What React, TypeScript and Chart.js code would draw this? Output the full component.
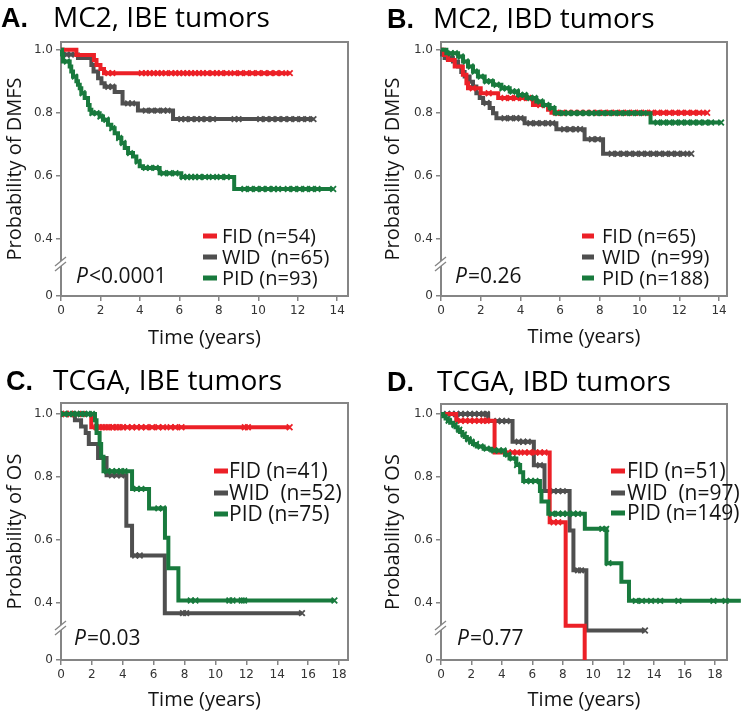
import React, { useEffect, useRef } from 'react';
import { Chart, registerables, LinearScale } from 'chart.js';

Chart.register(...registerables);

// ---------- y axis break ----------
const ZERO_AT = 0.218;
const BREAK_AT = 0.3;
function brk(v: number) {
  return v >= BREAK_AT ? v : ZERO_AT + (v / BREAK_AT) * (BREAK_AT - ZERO_AT);
}
class BrokenScale extends LinearScale {
  static id = 'broken';
  static defaults = LinearScale.defaults;
  getPixelForValue(value: number) {
    return super.getPixelForValue(brk(value));
  }
}
Chart.register(BrokenScale as any);

// ---------- colours ----------
const RED = '#ec2027';
const GRAY = '#4f4f4f';
const GREEN = '#187a3d';
const AXIS = '#858585';

// ---------- data ----------
const Y_TICKS = [0, 0.4, 0.6, 0.8, 1.0];
const X_TICKS_MC2 = [0, 2, 4, 6, 8, 10, 12, 14];
const X_TICKS_TCGA = [0, 2, 4, 6, 8, 10, 12, 14, 16, 18];

// Panel A : MC2, IBE
const A_FID_t = [0, 0.78, 1.67, 1.8, 2.0, 2.18];
const A_FID_s = [1, 0.984, 0.968, 0.952, 0.939, 0.926];
const A_FID_c = [2.4, 2.6, 4.1, 4.3, 4.5, 4.7, 4.9, 5.1, 5.3, 5.6, 5.8, 6.0, 6.2, 6.4, 6.6, 6.8, 7.0, 7.2, 7.4, 7.7, 7.9, 8.1, 8.4, 8.8, 9.1, 9.4, 9.7, 10.0, 10.3, 10.6, 10.9, 11.2, 11.6];
const A_WID_t = [0, 0.1, 0.86, 1.54, 1.65, 1.88, 2.05, 2.21, 2.72, 3.12, 3.9, 5.68];
const A_WID_s = [1, 0.985, 0.974, 0.952, 0.931, 0.91, 0.894, 0.883, 0.866, 0.83, 0.807, 0.78];
const A_WID_c = [0.3, 0.5, 2.4, 2.6, 3.4, 3.6, 4.3, 4.6, 4.9, 5.2, 5.4, 6.1, 6.3, 6.6, 6.9, 7.1, 7.4, 7.7, 8.8, 9.0, 10.1, 10.4, 10.7, 11.0, 11.3, 11.6, 11.9, 12.2, 12.5, 12.8];
const A_PID_t = [0, 0.05, 0.1, 0.44, 0.52, 0.61, 0.78, 0.86, 0.95, 1.03, 1.2, 1.37, 1.45, 1.54, 1.96, 2.13, 2.38, 2.55, 2.72, 2.89, 3.06, 3.23, 3.4, 3.65, 3.82, 3.99, 4.16, 5.0, 6.1, 8.78];
const A_PID_s = [1, 0.985, 0.963, 0.947, 0.931, 0.915, 0.9, 0.889, 0.878, 0.862, 0.847, 0.825, 0.81, 0.799, 0.788, 0.778, 0.762, 0.751, 0.735, 0.72, 0.704, 0.688, 0.672, 0.661, 0.645, 0.63, 0.625, 0.608, 0.596, 0.558];
const A_PID_c = [0.3, 0.7, 1.1, 1.6, 1.8, 2.0, 2.3, 2.6, 2.95, 3.15, 3.5, 3.9, 4.3, 4.5, 4.8, 5.2, 5.5, 5.8, 6.2, 6.4, 6.6, 6.8, 7.0, 7.3, 7.7, 8.1, 8.4, 9.3, 9.6, 9.9, 10.2, 10.5, 10.8, 11.0, 11.5, 11.8, 12.1, 12.4, 12.7, 13.0, 13.8];
const A_LABELS = ['FID (n=54)', 'WID  (n=65)', 'PID (n=93)'];
const A_P = '<0.0001';

// Panel B : MC2, IBD
const B_FID_t = [0, 0.15, 0.35, 0.69, 1.1, 1.28, 1.36, 2.0, 2.88, 4.63, 5.39, 5.56];
const B_FID_s = [1, 0.984, 0.968, 0.947, 0.921, 0.894, 0.878, 0.862, 0.847, 0.825, 0.81, 0.80];
const B_FID_c = [1.6, 2.4, 3.2, 3.5, 3.8, 4.1, 4.4, 5.0, 5.8, 6.1, 6.4, 6.7, 7.0, 7.3, 7.6, 7.9, 8.2, 8.5, 8.8, 9.1, 9.4, 9.7, 10.0, 10.3, 10.6, 10.9, 11.2, 11.5, 11.8, 12.1, 12.4, 12.7, 13.0, 13.4];
const B_WID_t = [0, 0.05, 0.18, 0.6, 0.86, 1.02, 1.19, 1.44, 1.61, 1.78, 1.95, 2.12, 2.45, 2.62, 2.79, 4.21, 5.81, 7.23, 8.16];
const B_WID_s = [1, 0.985, 0.974, 0.963, 0.947, 0.93, 0.915, 0.899, 0.884, 0.862, 0.847, 0.831, 0.815, 0.799, 0.783, 0.767, 0.748, 0.716, 0.67];
const B_WID_c = [0.4, 2.3, 3.2, 3.5, 3.8, 4.0, 4.5, 4.8, 5.1, 5.4, 5.6, 6.2, 6.5, 6.8, 7.0, 7.6, 7.9, 8.6, 8.9, 9.2, 9.5, 9.8, 10.1, 10.4, 10.7, 11.0, 11.3, 11.6, 11.9, 12.2, 12.6];
const B_PID_t = [0, 0.27, 0.86, 1.11, 1.36, 1.61, 1.86, 2.2, 2.62, 3.04, 3.46, 3.88, 4.3, 4.8, 5.13, 5.47, 5.72, 10.55];
const B_PID_s = [1, 0.989, 0.979, 0.963, 0.947, 0.931, 0.915, 0.9, 0.889, 0.878, 0.868, 0.857, 0.847, 0.836, 0.825, 0.815, 0.799, 0.769];
const B_PID_c = [0.5, 0.7, 1.0, 1.25, 1.5, 1.7, 2.0, 2.3, 2.5, 2.8, 3.1, 3.3, 3.6, 3.8, 4.0, 4.2, 4.5, 4.7, 5.0, 5.3, 5.6, 5.9, 6.2, 6.4, 6.7, 7.0, 7.3, 7.6, 7.8, 8.1, 8.4, 8.7, 9.0, 9.3, 9.6, 9.9, 10.2, 10.9, 11.2, 11.5, 11.8, 12.1, 12.4, 12.7, 13.0, 13.3, 13.6, 14.1];
const B_LABELS = ['FID (n=65)', 'WID  (n=99)', 'PID (n=188)'];
const B_P = '=0.26';

// Panel C : TCGA, IBE
const C_FID_t = [0, 1.96];
const C_FID_s = [1, 0.958];
const C_FID_c = [0.3, 0.6, 1.0, 1.4, 2.3, 2.5, 2.7, 2.9, 3.1, 3.3, 3.4, 3.6, 3.8, 4.0, 4.3, 4.6, 4.9, 5.2, 5.5, 5.9, 6.3, 6.6, 7.1, 7.4, 7.8, 11.9, 12.1, 14.8];
const C_WID_t = [0, 0.9, 1.3, 1.6, 1.8, 2.4, 2.95, 4.23, 4.6, 6.72];
const C_WID_s = [1, 0.98, 0.96, 0.94, 0.905, 0.86, 0.805, 0.645, 0.55, 0.367];
const C_WID_c = [0.3, 0.6, 3.3, 3.6, 3.9, 4.8, 5.1, 7.9, 8.1, 15.6];
const C_PID_t = [0, 2.2, 2.3, 2.5, 2.6, 2.75, 4.6, 5.7, 6.73, 6.95, 7.6];
const C_PID_s = [1, 0.98, 0.94, 0.905, 0.864, 0.818, 0.762, 0.70, 0.607, 0.51, 0.407];
const C_PID_c = [0.2, 0.5, 0.8, 1.0, 1.3, 1.5, 1.8, 2.0, 3.0, 3.3, 3.6, 3.9, 4.1, 4.9, 5.2, 6.3, 6.6, 8.4, 8.7, 10.9, 11.1, 11.7, 11.85, 17.7];
const C_LABELS = ['FID (n=41)', 'WID  (n=52)', 'PID (n=75)'];
const C_P = '=0.03';

// Panel D : TCGA, IBD
const D_FID_t = [0, 1.0, 3.52, 7.14, 8.19, 9.44];
const D_FID_s = [1, 0.979, 0.878, 0.656, 0.327, 0];
const D_FID_c = [1.3, 1.6, 1.9, 2.2, 2.5, 2.8, 3.0, 4.4, 4.7, 5.0, 5.5, 5.8, 6.2, 6.5, 6.8, 7.4, 7.7];
const D_WID_t = [0, 3.1, 4.7, 6.1, 6.8, 8.45, 8.7, 9.55];
const D_WID_s = [1, 0.978, 0.912, 0.837, 0.755, 0.63, 0.503, 0.312];
const D_WID_c = [0.4, 0.7, 1.0, 1.3, 1.6, 1.9, 2.2, 2.5, 2.8, 3.0, 3.7, 4.0, 4.3, 5.1, 5.4, 5.7, 6.5, 7.4, 7.7, 8.0, 9.0, 9.2, 13.4];
const D_PID_t = [0, 0.15, 0.3, 0.45, 0.6, 0.8, 0.95, 1.1, 1.25, 1.4, 1.55, 1.7, 1.9, 2.1, 2.35, 2.8, 3.3, 4.2, 4.5, 4.95, 5.2, 5.4, 6.5, 6.6, 7.05, 9.45, 10.87, 11.85, 12.35];
const D_PID_s = [1, 0.993, 0.986, 0.979, 0.972, 0.965, 0.958, 0.95, 0.943, 0.935, 0.927, 0.92, 0.912, 0.905, 0.897, 0.89, 0.884, 0.871, 0.859, 0.838, 0.815, 0.787, 0.755, 0.722, 0.683, 0.635, 0.526, 0.467, 0.406];
const D_PID_c = [0.5, 0.9, 1.2, 1.5, 1.8, 2.0, 2.3, 2.6, 3.0, 3.5, 3.8, 4.1, 4.4, 4.7, 5.0, 5.6, 5.9, 6.2, 7.3, 7.7, 8.0, 8.3, 8.7, 9.0, 10.6, 10.85, 11.0, 12.8, 13.2, 13.8, 14.4, 15.6, 17.9, 18.7, 19.7];
const D_LABELS = ['FID (n=51)', 'WID  (n=97)', 'PID (n=149)'];
const D_P = '=0.77';

// ---------- helpers ----------
type Pt = { x: number; y: number; c: boolean };
function buildSeries(t: number[], s: number[], c: number[]): Pt[] {
  const pts: Pt[] = t.map((x, i) => ({ x, y: s[i], c: false }));
  c.forEach((x) => {
    let y = 1;
    for (let i = 0; i < t.length; i++) if (t[i] <= x) y = s[i];
    pts.push({ x, y, c: true });
  });
  pts.sort((a, b) => a.x - b.x);
  return pts;
}

type PanelDef = {
  letter: string;
  title: string;
  yTitle: string;
  xMax: number;
  yMax: number;
  xTicks: number[];
  labels: string[];
  p: string;
  series: [number[], number[], number[]][];
  L: any;
};

const W = 375;
const H = 358;

const PANELS: PanelDef[] = [
  {
    letter: 'A.', title: 'MC2, IBE tumors', yTitle: 'Probability of DMFS', xMax: 14.55, yMax: 1.025,
    xTicks: X_TICKS_MC2, labels: A_LABELS, p: A_P,
    series: [[A_FID_t, A_FID_s, A_FID_c], [A_WID_t, A_WID_s, A_WID_c], [A_PID_t, A_PID_s, A_PID_c]],
    L: { left: 61, right: 348, top: 42, bottom: 296, yTitlePad: 3, xTitlePad: 8, letterX: 1, titleX: 53, titleBase: 27, legX0: 203, legX1: 217, legTextX: 222, legRows: [236, 257, 278], legFont: 20, pX: 76, pY: 277, posX: 0, posY: 0 },
  },
  {
    letter: 'B.', title: 'MC2, IBD tumors', yTitle: 'Probability of DMFS', xMax: 14.4, yMax: 1.025,
    xTicks: X_TICKS_MC2, labels: B_LABELS, p: B_P,
    series: [[B_FID_t, B_FID_s, B_FID_c], [B_WID_t, B_WID_s, B_WID_c], [B_PID_t, B_PID_s, B_PID_c]],
    L: { left: 66, right: 352, top: 42, bottom: 296, yTitlePad: 6, xTitlePad: 9, letterX: 12, titleX: 58, titleBase: 28, legX0: 207, legX1: 219, legTextX: 227, legRows: [236, 257, 278], legFont: 20, pX: 80, pY: 277, posX: 375, posY: 0 },
  },
  {
    letter: 'C.', title: 'TCGA, IBE tumors', yTitle: 'Probability of OS', xMax: 18.58, yMax: 1.035,
    xTicks: X_TICKS_TCGA, labels: C_LABELS, p: C_P,
    series: [[C_FID_t, C_FID_s, C_FID_c], [C_WID_t, C_WID_s, C_WID_c], [C_PID_t, C_PID_s, C_PID_c]],
    L: { left: 61, right: 348, top: 45, bottom: 302, yTitlePad: 3, xTitlePad: 4, letterX: 6, titleX: 53, titleBase: 32, legX0: 214, legX1: 228, legTextX: 229, legRows: [113, 135, 156], legFont: 21, pX: 74, pY: 281, posX: 0, posY: 358 },
  },
  {
    letter: 'D.', title: 'TCGA, IBD tumors', yTitle: 'Probability of OS', xMax: 18.79, yMax: 1.032,
    xTicks: X_TICKS_TCGA, labels: D_LABELS, p: D_P,
    series: [[D_FID_t, D_FID_s, D_FID_c], [D_WID_t, D_WID_s, D_WID_c], [D_PID_t, D_PID_s, D_PID_c]],
    L: { left: 66, right: 352, top: 46, bottom: 302, yTitlePad: 6, xTitlePad: 4, letterX: 12, titleX: 62, titleBase: 33, legX0: 236, legX1: 250, legTextX: 252, legRows: [113, 135, 155], legFont: 21, pX: 82, pY: 281, posX: 375, posY: 358 },
  },
];

const COLORS = [RED, GRAY, GREEN];
const ORDERS = [1, 2, 0];
const TEXT = '#141414';

function Panel({ def }: { def: PanelDef }) {
  const ref = useRef<HTMLCanvasElement | null>(null);
  useEffect(() => {
    const canvas = ref.current;
    if (!canvas) return;
    const L = def.L;

    const overlay = {
      id: 'overlay',
      beforeDatasetsDraw(chart: any) {
        const { ctx, chartArea: a } = chart;
        ctx.save();
        ctx.strokeStyle = AXIS;
        ctx.lineWidth = 2;
        ctx.strokeRect(a.left, a.top, a.right - a.left, a.bottom - a.top);
        // axis break marks
        const yb = chart.scales.y.getPixelForValue(0.32);
        const x = a.left;
        ctx.fillStyle = '#ffffff';
        ctx.beginPath();
        ctx.moveTo(x - 5, yb + 1);
        ctx.lineTo(x + 5, yb - 7);
        ctx.lineTo(x + 5, yb - 2);
        ctx.lineTo(x - 5, yb + 6);
        ctx.closePath();
        ctx.fill();
        ctx.strokeStyle = AXIS;
        ctx.lineWidth = 1.3;
        for (const d of [0, 5]) {
          ctx.beginPath();
          ctx.moveTo(x - 6, yb + 2 + d);
          ctx.lineTo(x + 5, yb - 7 + d);
          ctx.stroke();
        }
        ctx.restore();
      },
      afterDraw(chart: any) {
        const { ctx } = chart;
        ctx.save();
        // title
        ctx.fillStyle = '#000';
        ctx.textBaseline = 'alphabetic';
        ctx.textAlign = 'left';
        ctx.font = 'bold 27px "Liberation Sans", Arial, sans-serif';
        ctx.fillText(def.letter, L.letterX, L.titleBase);
        ctx.font = '28px "Open Sans", sans-serif';
        ctx.fillText(def.title, L.titleX, L.titleBase);
        // legend
        ctx.textBaseline = 'middle';
        ctx.font = `${L.legFont}px "Open Sans", sans-serif`;
        def.labels.forEach((lab, i) => {
          const y = L.legRows[i];
          ctx.fillStyle = COLORS[i];
          ctx.fillRect(L.legX0, y - 2.5, L.legX1 - L.legX0, 5);
          ctx.fillStyle = TEXT;
          ctx.fillText(lab, L.legTextX, y + 1);
        });
        // p value
        ctx.font = `italic 21px "Open Sans", sans-serif`;
        ctx.fillText('P', L.pX, L.pY);
        const w = ctx.measureText('P').width;
        ctx.font = `21px "Open Sans", sans-serif`;
        ctx.fillText(def.p, L.pX + w + 1, L.pY);
        ctx.restore();
      },
    };

    const datasets = def.series.map(([t, s, c], i) => ({
      label: def.labels[i],
      data: buildSeries(t, s, c),
      borderColor: COLORS[i],
      backgroundColor: COLORS[i],
      borderWidth: 4,
      stepped: true,
      pointStyle: 'crossRot',
      pointRadius: (ctx: any) => (ctx.raw && ctx.raw.c ? 4 : 0),
      pointBorderWidth: 1.8,
      pointBorderColor: COLORS[i],
      clip: false,
      order: ORDERS[i],
    }));

    const tickFont = { family: '"DejaVu Sans", Verdana, sans-serif', size: 12 };
    const gridOpts = {
      drawOnChartArea: false,
      drawTicks: true,
      tickLength: 5,
      color: AXIS,
      lineWidth: 1.5,
    };

    const chart = new Chart(canvas, {
      type: 'line',
      data: { datasets: datasets as any },
      options: {
        responsive: false,
        animation: false,
        devicePixelRatio: 1,
        events: [],
        layout: { padding: { left: 0, top: L.top, right: W - L.right, bottom: 0 } },
        plugins: { legend: { display: false }, tooltip: { enabled: false }, title: { display: false } },
        scales: {
          x: {
            type: 'linear',
            min: 0,
            max: def.xMax,
            bounds: 'data',
            afterBuildTicks: (sc: any) => {
              sc.ticks = def.xTicks.map((v) => ({ value: v }));
            },
            afterFit: (sc: any) => {
              sc.height = H - L.bottom;
            },
            ticks: {
              font: tickFont,
              color: '#333',
              padding: 3,
              maxRotation: 0,
              autoSkip: false,
              callback: (v: any) => String(v),
            },
            grid: gridOpts,
            border: { display: false },
            title: {
              display: true,
              text: 'Time (years)',
              font: { family: '"Open Sans", sans-serif', size: 20 },
              color: TEXT,
              padding: { top: 0, bottom: L.xTitlePad },
            },
          },
          y: {
            type: 'broken' as any,
            min: ZERO_AT,
            max: def.yMax,
            bounds: 'data',
            afterBuildTicks: (sc: any) => {
              sc.ticks = Y_TICKS.map((v) => ({ value: v }));
            },
            afterFit: (sc: any) => {
              sc.width = L.left;
            },
            ticks: {
              font: tickFont,
              color: '#333',
              padding: 3,
              autoSkip: false,
              callback: (v: any) => (v === 0 ? '0' : Number(v).toFixed(1)),
            },
            grid: gridOpts,
            border: { display: false },
            title: {
              display: true,
              text: def.yTitle,
              font: { family: '"Open Sans", sans-serif', size: 20 },
              color: TEXT,
              padding: { top: L.yTitlePad, bottom: 0 },
            },
          },
        },
      } as any,
      plugins: [overlay],
    });
    return () => chart.destroy();
  }, [def]);

  return (
    <div style={{ position: 'absolute', left: def.L.posX, top: def.L.posY, width: W, height: H }}>
      <canvas ref={ref} width={W} height={H} style={{ display: 'block', width: W, height: H }} />
    </div>
  );
}

export default function App() {
  return (
    <div style={{ position: 'absolute', left: 0, top: 0, width: 750, height: 716, background: '#fff' }}>
      {PANELS.map((p) => (
        <Panel key={p.letter} def={p} />
      ))}
    </div>
  );
}
